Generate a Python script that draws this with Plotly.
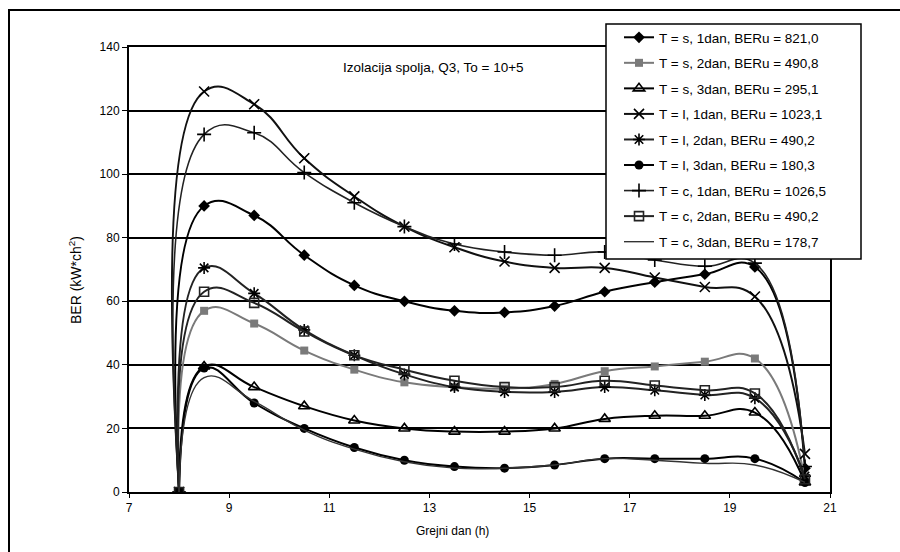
import plotly.graph_objects as go

hours = [8, 8.5, 9.5, 10.5, 11.5, 12.5, 13.5, 14.5, 15.5, 16.5, 17.5, 18.5, 19.5, 20.5]

s_1dan = [0, 90, 87, 74.5, 65, 60, 57, 56.5, 58.5, 63, 66, 68.5, 70.8, 7.5]
s_2dan = [0, 57, 53, 44.5, 38.5, 34.5, 33, 32.5, 34, 38, 39.5, 41, 42, 4]
s_3dan = [0, 39.5, 33, 27, 22.5, 20, 19, 19, 20, 23, 24, 24, 25, 3]
l_1dan = [0, 126, 122, 105, 93, 83.5, 77, 72.5, 70.5, 70.5, 67.5, 64.5, 61.5, 12]
l_2dan = [0, 70.5, 62.5, 51, 43, 37, 33, 31.5, 31.5, 33, 32, 30.5, 29.5, 5]
l_3dan = [0, 39, 28, 20, 14, 10, 8, 7.5, 8.5, 10.5, 10.5, 10.5, 10.5, 3]
c_1dan = [0, 112.5, 113, 100.5, 91, 83.5, 78, 75.5, 74.5, 75.5, 73, 71, 72, 8]
c_2dan = [0, 63, 59.5, 50.5, 43, 38.5, 35, 33, 33, 35, 33.5, 32, 31, 4]
c_3dan = [0, 36, 28.5, 19.5, 13.5, 9.5, 7.5, 7.5, 8.5, 10.5, 10, 9, 8.5, 3]

names = [
    "T = s, 1dan, BERu = 821,0",
    "T = s, 2dan, BERu = 490,8",
    "T = s, 3dan, BERu = 295,1",
    "T = l, 1dan, BERu = 1023,1",
    "T = l, 2dan, BERu = 490,2",
    "T = l, 3dan, BERu = 180,3",
    "T = c, 1dan, BERu = 1026,5",
    "T = c, 2dan, BERu = 490,2",
    "T = c, 3dan, BERu = 178,7",
]
series = [s_1dan, s_2dan, s_3dan, l_1dan, l_2dan, l_3dan, c_1dan, c_2dan, c_3dan]

styles = [
    dict(line=dict(color="black", width=2), marker=dict(symbol="diamond", size=9, color="black")),
    dict(line=dict(color="#7a7a7a", width=2), marker=dict(symbol="square", size=8, color="#7a7a7a")),
    dict(line=dict(color="black", width=2), marker=dict(symbol="triangle-up-open", size=10, color="black", line=dict(width=1.6))),
    dict(line=dict(color="#111", width=2), marker=dict(symbol="x-thin-open", size=10, color="black", line=dict(width=1.6))),
    dict(line=dict(color="#222", width=2), marker=dict(symbol="asterisk-open", size=10, color="black", line=dict(width=1.6))),
    dict(line=dict(color="black", width=2), marker=dict(symbol="circle", size=9, color="black")),
    dict(line=dict(color="#222", width=1.6), marker=dict(symbol="cross-thin-open", size=10, color="black", line=dict(width=1.6))),
    dict(line=dict(color="#222", width=2), marker=dict(symbol="square-open", size=9, color="#222", line=dict(width=1.6))),
    dict(line=dict(color="#333", width=1.4), marker=dict(symbol="circle", size=1, color="#333")),
]

fig = go.Figure()
for i, (nm, ys, st) in enumerate(zip(names, series, styles)):
    mode = "lines" if i == 8 else "lines+markers"
    fig.add_trace(go.Scatter(
        x=hours, y=ys, name=nm, mode=mode,
        line=dict(shape="spline", smoothing=1.3, **st["line"]),
        marker=st["marker"], legendgroup=f"g{i}",
    ))

font = "Liberation Sans, Arial, sans-serif"
W = 701.0
H = 445.0
def px(x):
    return (x - 129) / W
def py(y):
    return (492 - y) / H

fig.update_layout(
    width=900, height=552,
    margin=dict(l=129, r=70, t=47, b=60),
    paper_bgcolor="white", plot_bgcolor="white",
    font=dict(family=font, size=12, color="black"),
    showlegend=True,
    legend=dict(
        x=px(619), y=py(22), xanchor="left", yanchor="top",
        bgcolor="rgba(0,0,0,0)", borderwidth=0,
        font=dict(size=13.5), tracegroupgap=5,
    ),
    xaxis=dict(
        range=[7, 21], tickvals=[7, 9, 11, 13, 15, 17, 19, 21],
        showgrid=False, zeroline=False, showline=True, linecolor="black", linewidth=2,
        mirror=True, ticks="outside", ticklen=4, tickcolor="black",
        tickfont=dict(size=12),
    ),
    yaxis=dict(
        range=[0, 140], dtick=20,
        showgrid=True, gridcolor="black", gridwidth=1.5,
        zeroline=False, showline=True, linecolor="black", linewidth=2,
        mirror=True, ticks="outside", ticklen=5, tickcolor="black",
        tickfont=dict(size=12),
    ),
    annotations=[
        dict(text="Izolacija spolja, Q3, To = 10+5", x=px(433), y=py(67), xref="paper", yref="paper",
             showarrow=False, font=dict(size=13.5), xanchor="center", yanchor="middle"),
        dict(text="Grejni dan (h)", x=px(452), y=py(531), xref="paper", yref="paper",
             showarrow=False, font=dict(size=12), xanchor="center", yanchor="middle"),
        dict(text="BER (kW*ch<sup>2</sup>)", x=px(75), y=py(280), xref="paper", yref="paper",
             showarrow=False, font=dict(size=14), textangle=-90, xanchor="center", yanchor="middle"),
    ],
    shapes=[
        dict(type="rect", xref="paper", yref="paper", x0=px(9), x1=1.3,
             y0=-0.4, y1=py(10), line=dict(color="black", width=2), layer="below"),
        dict(type="rect", xref="paper", yref="paper", x0=px(606), x1=px(861),
             y0=py(259), y1=py(24), line=dict(color="black", width=1.5),
             fillcolor="white", layer="above"),
    ],
)

fig.write_html("out.html")
